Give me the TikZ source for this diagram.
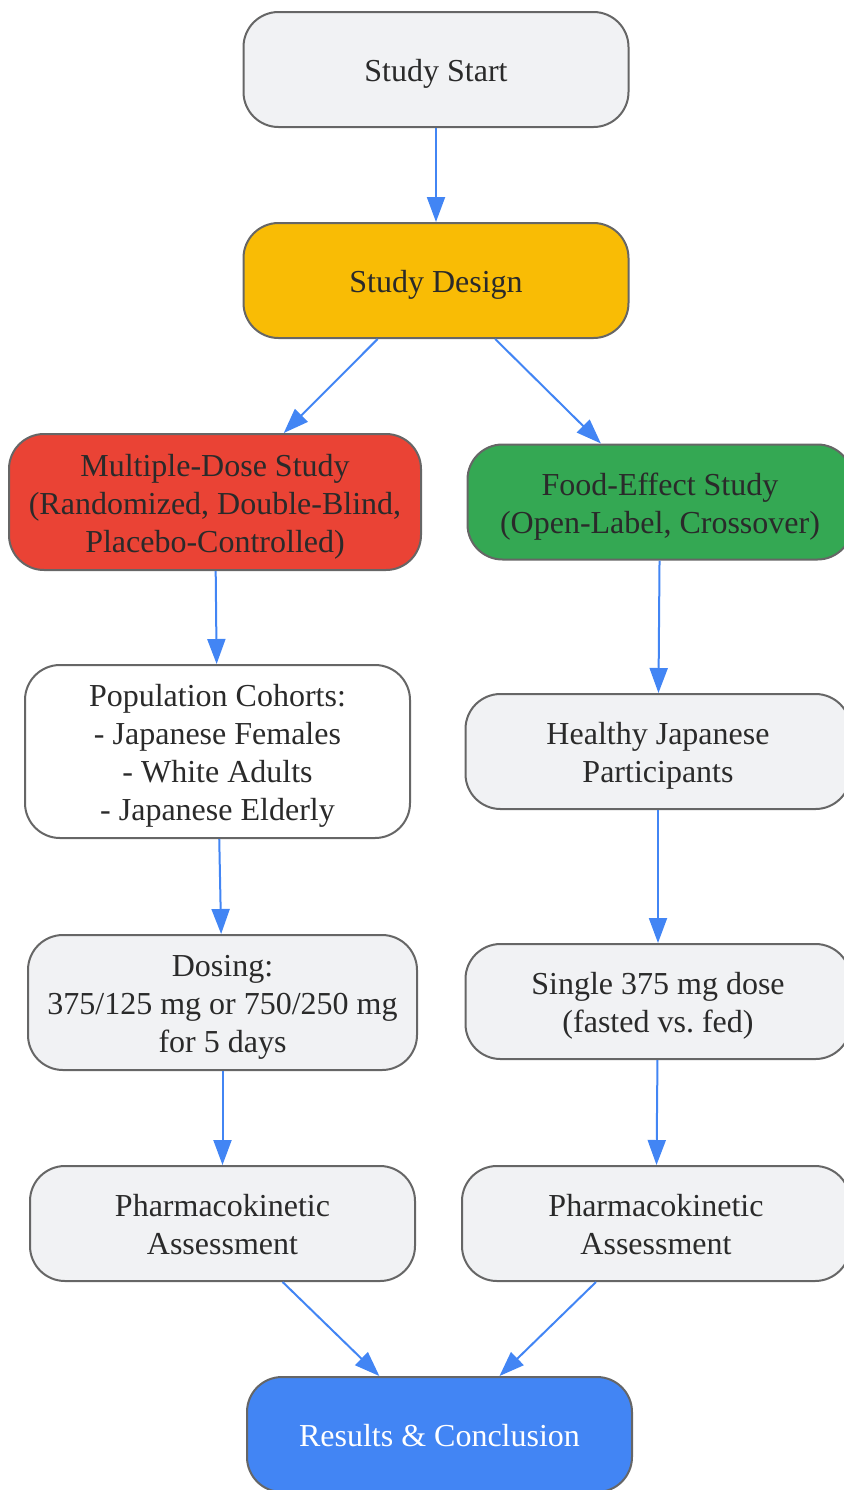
\documentclass[tikz,border=0pt]{standalone}
\usepackage{fontspec}
\setmainfont{Liberation Serif}
\usepackage{tikz}
\usetikzlibrary{arrows.meta, positioning}
\frenchspacing
\definecolor{boxgray}{HTML}{F1F2F4}
\definecolor{boxline}{HTML}{666666}
\definecolor{textdark}{HTML}{2A2A2A}
\definecolor{designyellow}{HTML}{F9BC05}
\definecolor{multired}{HTML}{EA4335}
\definecolor{foodgreen}{HTML}{34A853}
\definecolor{flowblue}{HTML}{4285F4}
\tikzset{
    every node/.style={ % alle kaesten
        font=\fontsize{16}{19}\selectfont,
        text=textdark,
        align=center,
        text height=16pt, % eine zeile
        text depth=4pt
    },
    twolines/.style={text height=35pt},   % hoehe bis zur letzten grundlinie
    threelines/.style={text height=54pt},
    fourlines/.style={text height=73pt},
    box/.style={ % grundform
        draw=boxline,
        line width=1pt,
        fill=boxgray,
        rectangle,
        rounded corners=17.5pt,
        minimum width=192.5pt,
        minimum height=57.5pt,
        inner sep=0pt
    },
    every edge/.style={ % pfeile
        draw,
        flowblue,
        line width=1pt,
        -{Triangle[length=12.5pt,width=9pt]}
    }
}

\begin{document}
\begin{tikzpicture}[x=0.5pt, y=-0.5pt]
    \useasboundingbox (0,0) rectangle (844,1490);
    % oben
    \node[box]                                         (start)    at (436,69.5)    {Study Start};
    \node[box, fill=designyellow]                      (design)   at (436,280.5)   {Study Design};
    % linker zweig
    \node[box, threelines, fill=multired, minimum width=206pt,
          minimum height=68pt]                         (multi)    at (215,502)     {Multiple-Dose Study\\(Randomized, Double-Blind,\\Placebo-Controlled)};
    \node[box, fourlines, fill=white, minimum height=86.5pt] (cohorts) at (217.5,751.5) {Population Cohorts:\\- Japanese Females\\- White Adults\\- Japanese Elderly};
    \node[box, threelines, minimum width=194.5pt,
          minimum height=67.5pt]                       (dosing)   at (222.5,1002.5) {Dosing:\\375/125 mg or 750/250 mg\\for 5 days};
    \node[box, twolines]                               (pkleft)   at (222.5,1223.5) {Pharmacokinetic\\Assessment};
    % rechter zweig
    \node[box, twolines, fill=foodgreen]               (food)     at (660,502)     {Food-Effect Study\\(Open-Label, Crossover)};
    \node[box, twolines]                               (healthy)  at (658,751.5)   {Healthy Japanese\\Participants};
    \node[box, twolines]                               (single)   at (658,1001.5)  {Single 375 mg dose\\(fasted vs. fed)};
    \node[box, twolines, minimum width=194pt]          (pkright)  at (656,1223.5)  {Pharmacokinetic\\Assessment};
    % unten
    \node[box, fill=flowblue, text=white]              (results)  at (439.5,1434.5) {Results \& Conclusion};

    \draw
            (start)   edge (design)
            (design)  edge (multi)
            (design)  edge (food)
            % links
            (multi)   edge (cohorts)
            (cohorts) edge (dosing)
            (dosing)  edge (pkleft)
            % rechts
            (food)    edge (healthy)
            (healthy) edge (single)
            (single)  edge (pkright)
            % zusammen
            (pkleft)  edge (results)
            (pkright) edge (results)
    ;
\end{tikzpicture}
\end{document}
